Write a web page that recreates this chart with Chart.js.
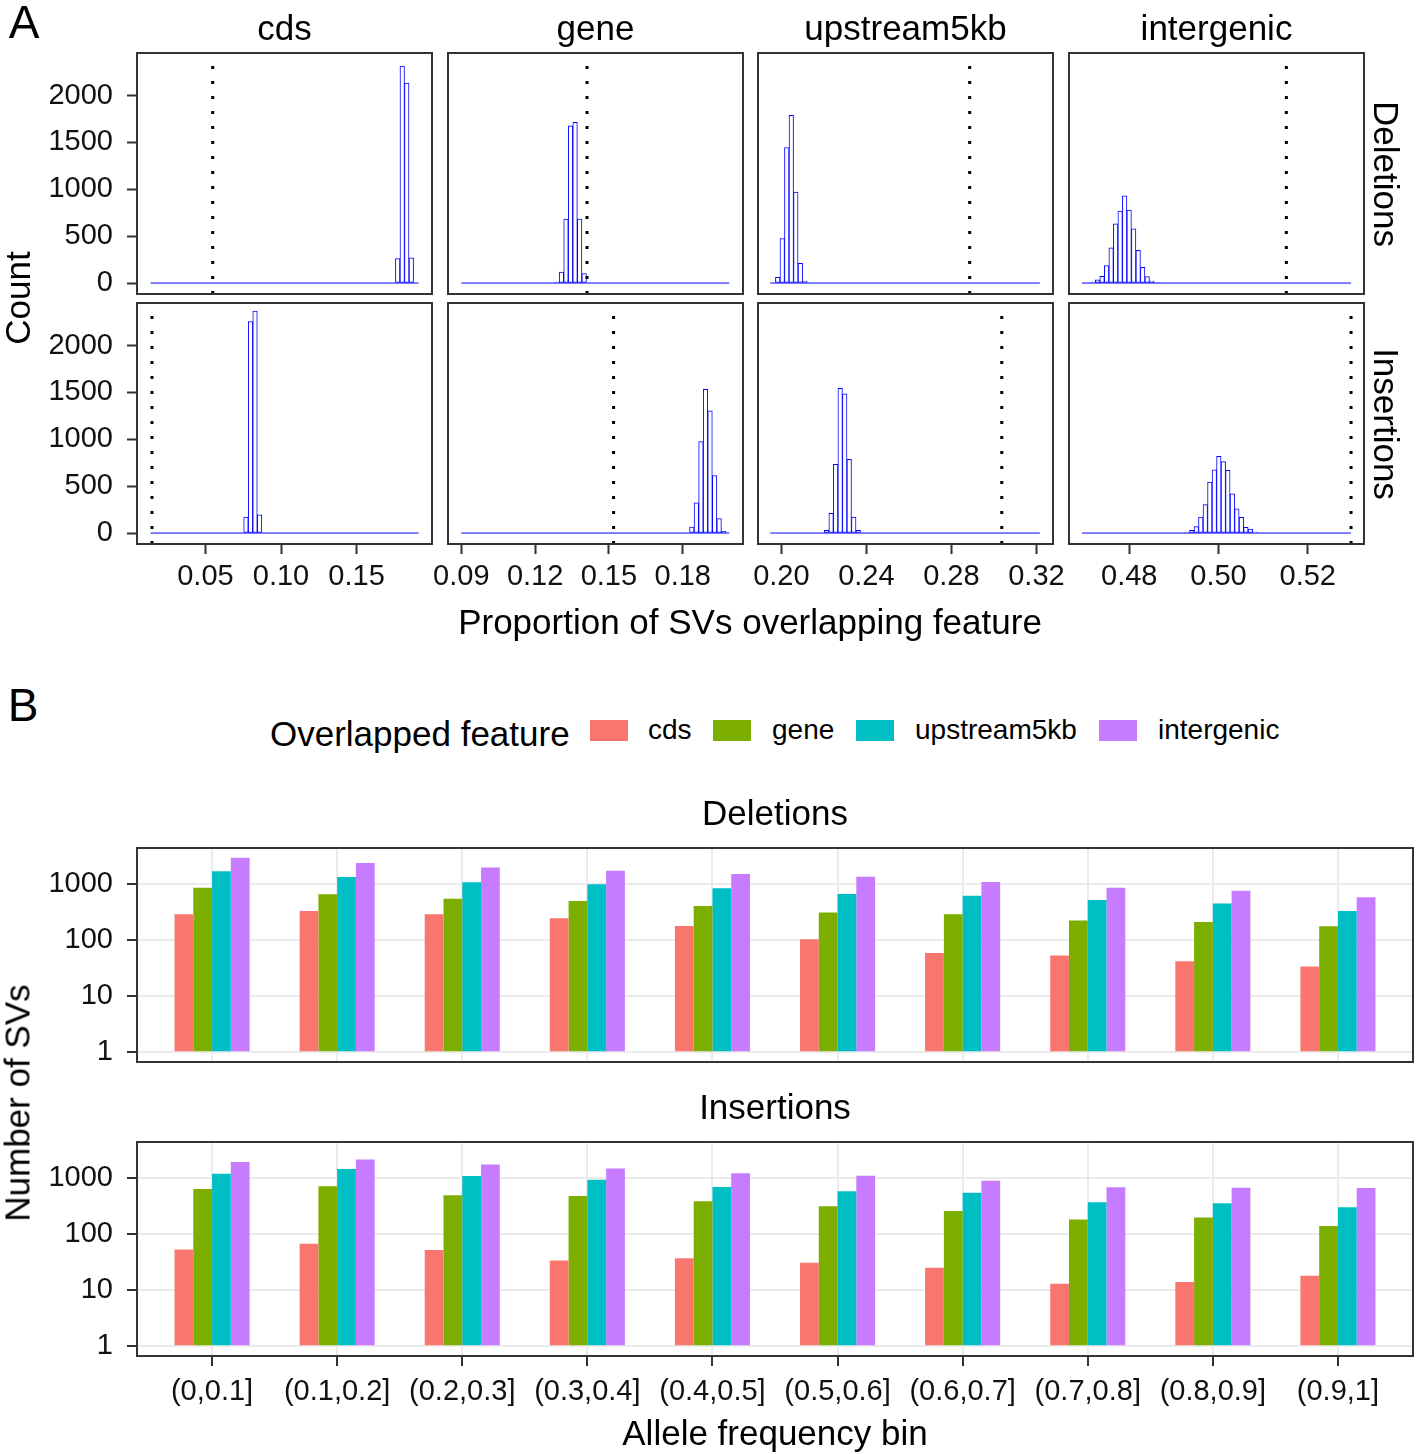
<!DOCTYPE html>
<html>
<head>
<meta charset="utf-8">
<script src="https://cdn.jsdelivr.net/npm/chart.js@4.4.1/dist/chart.umd.min.js"></script>
<style>
html, body { margin: 0; padding: 0; background: #fff; overflow: hidden; }
body { width: 1416px; height: 1454px; position: relative; font-family: "Liberation Sans", Arial, sans-serif; color: #000; }
canvas { position: absolute; }
.t { position: absolute; white-space: nowrap; line-height: 1; }
.key { position: absolute; width: 38px; height: 21px; }
</style>
</head>
<body>
<script>
// ---------- Panel A: permutation histograms ----------
const features = ["cds", "gene", "upstream5kb", "intergenic"];
const svTypes = ["Deletions", "Insertions"];

const xRanges = [[0.0047, 0.1999], [0.0846, 0.2045], [0.1890, 0.3278], [0.4665, 0.5326]];
const xTicks = [[0.05, 0.10, 0.15], [0.09, 0.12, 0.15, 0.18], [0.20, 0.24, 0.28, 0.32], [0.48, 0.50, 0.52]];
const countTicks = [0, 500, 1000, 1500, 2000];
const countRange = [-117, 2454];

// span of the (mostly empty) histogram bins per column
const binExtent = [[0.0137, 0.1910], [0.0900, 0.1989], [0.1948, 0.3216], [0.4694, 0.5297]];

// observed proportions (dotted lines)
const observedDel = [0.0548, 0.1411, 0.2886, 0.5152];
const observedIns = [0.0146, 0.1519, 0.3037, 0.5297];

// deletions
const cdsDelBins = [0.1772, 0.1802, 0.1832, 0.1862];
const cdsDelCounts = [260, 2314, 2132, 268];
const geneDelBins = [0.12885, 0.1307, 0.13255, 0.1344, 0.13625, 0.1381, 0.13995];
const geneDelCounts = [10, 118, 682, 1678, 1714, 682, 100];
const upDelBins = [0.19827, 0.2004, 0.20253, 0.20466, 0.20679, 0.20892, 0.21105];
const upDelCounts = [61, 475, 1446, 1789, 971, 210, 21];
const interDelBins = [0.47190, 0.47291, 0.47392, 0.47493, 0.47594, 0.47695, 0.47796, 0.47897,
                      0.47998, 0.48099, 0.48200, 0.48301, 0.48402, 0.48503, 0.48604];
const interDelCounts = [10, 33, 71, 186, 375, 632, 768, 929, 779, 578, 350, 168, 68, 21, 7];

// insertions
const cdsInsBins = [0.0768, 0.0798, 0.0828, 0.0858];
const cdsInsCounts = [171, 2257, 2368, 193];
const geneInsBins = [0.1837, 0.18555, 0.1874, 0.18925, 0.1911, 0.19295, 0.1948, 0.19665];
const geneInsCounts = [64, 321, 975, 1532, 1303, 614, 153, 17];
const upInsBins = [0.22127, 0.2234, 0.22553, 0.22766, 0.22979, 0.23192, 0.23405, 0.23618];
const upInsCounts = [29, 210, 732, 1543, 1486, 786, 171, 29];
const interInsBins = [0.49300, 0.49401, 0.49502, 0.49603, 0.49704, 0.49805, 0.49906, 0.50007,
                      0.50108, 0.50209, 0.50310, 0.50411, 0.50512, 0.50613, 0.50714, 0.50815];
const interInsCounts = [8, 29, 68, 171, 303, 543, 675, 818, 761, 668, 418, 257, 168, 61, 43, 10];

// ---------- Panel B: counts by allele frequency bin ----------
const afBins = ["(0,0.1]", "(0.1,0.2]", "(0.2,0.3]", "(0.3,0.4]", "(0.4,0.5]",
                "(0.5,0.6]", "(0.6,0.7]", "(0.7,0.8]", "(0.8,0.9]", "(0.9,1]"];
const delCds = [289, 331, 289, 245, 179, 104, 59, 53, 42, 34];
const delGene = [860, 655, 548, 499, 406, 309, 289, 223, 211, 177];
const delUpstream = [1680, 1331, 1071, 986, 837, 664, 620, 519, 447, 331];
const delIntergenic = [2940, 2363, 1979, 1727, 1506, 1350, 1086, 860, 761, 579];
const insCds = [53, 67, 52, 34, 37, 31, 25, 13, 14, 18];
const insGene = [637, 711, 492, 479, 384, 313, 259, 182, 197, 140];
const insUpstream = [1194, 1445, 1086, 934, 691, 579, 548, 369, 354, 301];
const insIntergenic = [1927, 2148, 1750, 1485, 1211, 1099, 897, 682, 673, 664];
const logTicks = [1, 10, 100, 1000];
const logRange = [0.671, 4385];
const featureColors = ["#F8766D", "#7CAE00", "#00BFC4", "#C77CFF"];

const FONT = "'Liberation Sans', Arial, sans-serif";
Chart.defaults.font.family = FONT;
Chart.defaults.animation = false;
const tickFont = {family: FONT, size: 29};
const tickColor = "#111";
const titleSize = 35;

const frame = {
	id: "frame",
	afterDraw(chart) {
		const a = chart.chartArea, ctx = chart.ctx;
		ctx.save();
		ctx.strokeStyle = "#333333";
		ctx.lineWidth = 2;
		ctx.strokeRect(a.left, a.top, a.right - a.left, a.bottom - a.top);
		ctx.restore();
	}
};

function addCanvas(left, top, width, height) {
	const c = document.createElement("canvas");
	c.width = width; c.height = height;
	c.style.left = left + "px"; c.style.top = top + "px";
	c.style.width = width + "px"; c.style.height = height + "px";
	document.body.appendChild(c);
	return c;
}

function addText(txt, x, y, size, rot, anchor) {
	const d = document.createElement("div");
	d.className = "t";
	d.textContent = txt;
	d.style.fontSize = size + "px";
	d.style.left = x + "px";
	d.style.top = y + "px";
	let tf = anchor === "left" ? "translate(0,-50%)" : "translate(-50%,-50%)";
	if (rot) tf += " rotate(" + rot + "deg)";
	d.style.transform = tf;
	document.body.appendChild(d);
}

// ---------- draw panel A ----------
const histBins = [[cdsDelBins, geneDelBins, upDelBins, interDelBins], [cdsInsBins, geneInsBins, upInsBins, interInsBins]];
const histCounts = [[cdsDelCounts, geneDelCounts, upDelCounts, interDelCounts], [cdsInsCounts, geneInsCounts, upInsCounts, interInsCounts]];
const colLeft = [137, 448, 758, 1069];
const rowTop = [53, 303];
const boxW = 295, boxH = 241;
const padL = 137, padR = 40, padT = 40, padB = 70;

features.forEach((feat, col) => {
	svTypes.forEach((sv, row) => {
		const canvas = addCanvas(colLeft[col] - padL, rowTop[row] - padT, padL + boxW + padR, padT + boxH + padB);
		const bins = histBins[row][col];
		const counts = histCounts[row][col];
		const obs = (row === 0 ? observedDel : observedIns)[col];
		new Chart(canvas, {
			type: "bar",
			data: {
				datasets: [
					{
						type: "line",
						data: [{x: obs, y: countRange[0]}, {x: obs, y: countRange[1]}],
						borderColor: "#000",
						borderWidth: 3,
						borderDash: [3, 12],
						pointRadius: 0
					},
					{
						type: "line",
						data: [{x: binExtent[col][0], y: 0}, {x: binExtent[col][1], y: 0}],
						borderColor: "#0000FF",
						borderWidth: 1,
						pointRadius: 0
					},
					{
						type: "bar",
						data: bins.map((b, i) => ({x: b, y: counts[i]})),
						backgroundColor: "#ffffff",
						borderColor: "#0000FF",
						borderWidth: 1,
						borderSkipped: false,
						categoryPercentage: 1,
						barPercentage: 1
					}
				]
			},
			options: {
				responsive: false,
				events: [],
				layout: {padding: {left: 0, right: padR, top: padT, bottom: 0}},
				plugins: {legend: {display: false}, tooltip: {enabled: false}},
				scales: {
					x: {
						type: "linear",
						min: xRanges[col][0],
						max: xRanges[col][1],
						offset: false,
						afterBuildTicks: s => { s.ticks = xTicks[col].map(v => ({value: v})); },
						afterFit: s => { s.height = padB; },
						grid: {drawOnChartArea: false, drawTicks: row === 1, tickLength: 10, tickColor: "#333", tickWidth: 2, offset: false},
						border: {display: false},
						ticks: {display: row === 1, autoSkip: false, maxRotation: 0, minRotation: 0, padding: 6,
							font: tickFont, color: tickColor, callback: v => v.toFixed(2)}
					},
					y: {
						type: "linear",
						min: countRange[0],
						max: countRange[1],
						afterBuildTicks: s => { s.ticks = countTicks.map(v => ({value: v})); },
						afterFit: s => { s.width = padL; },
						grid: {drawOnChartArea: false, drawTicks: col === 0, tickLength: 10, tickColor: "#333", tickWidth: 2},
						border: {display: false},
						ticks: {display: col === 0, padding: 14, font: tickFont, color: tickColor, callback: v => String(v)}
					}
				}
			},
			plugins: [frame]
		});
	});
	addText(feat, colLeft[col] + boxW / 2, 27, titleSize);
});

svTypes.forEach((sv, row) => addText(sv, 1386, rowTop[row] + boxH / 2, titleSize, 90));
addText("Count", 17, 298, titleSize, -90);
addText("Proportion of SVs overlapping feature", 750, 621, titleSize);
addText("A", 24, 22, 46);

// ---------- draw panel B ----------
addText("B", 23, 705, 46);
addText("Overlapped feature", 270, 733, titleSize, 0, "left");
const keyLeft = [590, 713, 856, 1099];
const keyLabelLeft = [648, 772, 915, 1158];
features.forEach((f, i) => {
	const k = document.createElement("div");
	k.className = "key";
	k.style.left = keyLeft[i] + "px";
	k.style.top = "720px";
	k.style.background = featureColors[i];
	document.body.appendChild(k);
	addText(f, keyLabelLeft[i], 730, 28, 0, "left");
});

const bSeries = [[delCds, delGene, delUpstream, delIntergenic], [insCds, insGene, insUpstream, insIntergenic]];
const bTop = [848, 1142];
const bBoxW = 1276, bBoxH = 214;
const bPadB = [40, 70];

svTypes.forEach((sv, row) => {
	const isIns = row === 1;
	const canvas = addCanvas(0, bTop[row] - padT, padL + bBoxW + 3, padT + bBoxH + bPadB[row]);
	new Chart(canvas, {
		type: "bar",
		data: {
			datasets: features.map((f, k) => ({
				label: f,
				data: afBins.map((b, i) => ({x: i + 1, y: bSeries[row][k][i]})),
				base: 1,
				backgroundColor: featureColors[k],
				borderWidth: 0,
				categoryPercentage: 0.6,
				barPercentage: 1
			}))
		},
		options: {
			responsive: false,
			events: [],
			layout: {padding: {left: 0, right: 3, top: padT, bottom: 0}},
			plugins: {legend: {display: false}, tooltip: {enabled: false}},
			scales: {
				x: {
					type: "linear",
					min: 0.4,
					max: 10.6,
					offset: false,
					afterBuildTicks: s => { s.ticks = afBins.map((b, i) => ({value: i + 1})); },
					afterFit: s => { s.height = bPadB[row]; },
					grid: {color: "#EBEBEB", lineWidth: 2, drawTicks: isIns, tickLength: 10, tickColor: "#333", tickWidth: 2, offset: false},
					border: {display: false},
					ticks: {display: isIns, autoSkip: false, maxRotation: 0, minRotation: 0, padding: 9,
						font: tickFont, color: tickColor, callback: (v, i) => afBins[i]}
				},
				y: {
					type: "logarithmic",
					min: logRange[0],
					max: logRange[1],
					afterBuildTicks: s => { s.ticks = logTicks.map(v => ({value: v})); },
					afterFit: s => { s.width = padL; },
					grid: {color: "#EBEBEB", lineWidth: 2, drawTicks: true, tickLength: 10, tickColor: "#333", tickWidth: 2},
					border: {display: false},
					ticks: {padding: 14, font: tickFont, color: tickColor, callback: v => String(v)}
				}
			}
		},
		plugins: [frame]
	});
	addText(sv, 775, bTop[row] - 36, titleSize);
});

addText("Number of SVs", 17, 1103, titleSize, -90);
addText("Allele frequency bin", 775, 1432, titleSize);
</script>
</body>
</html>
